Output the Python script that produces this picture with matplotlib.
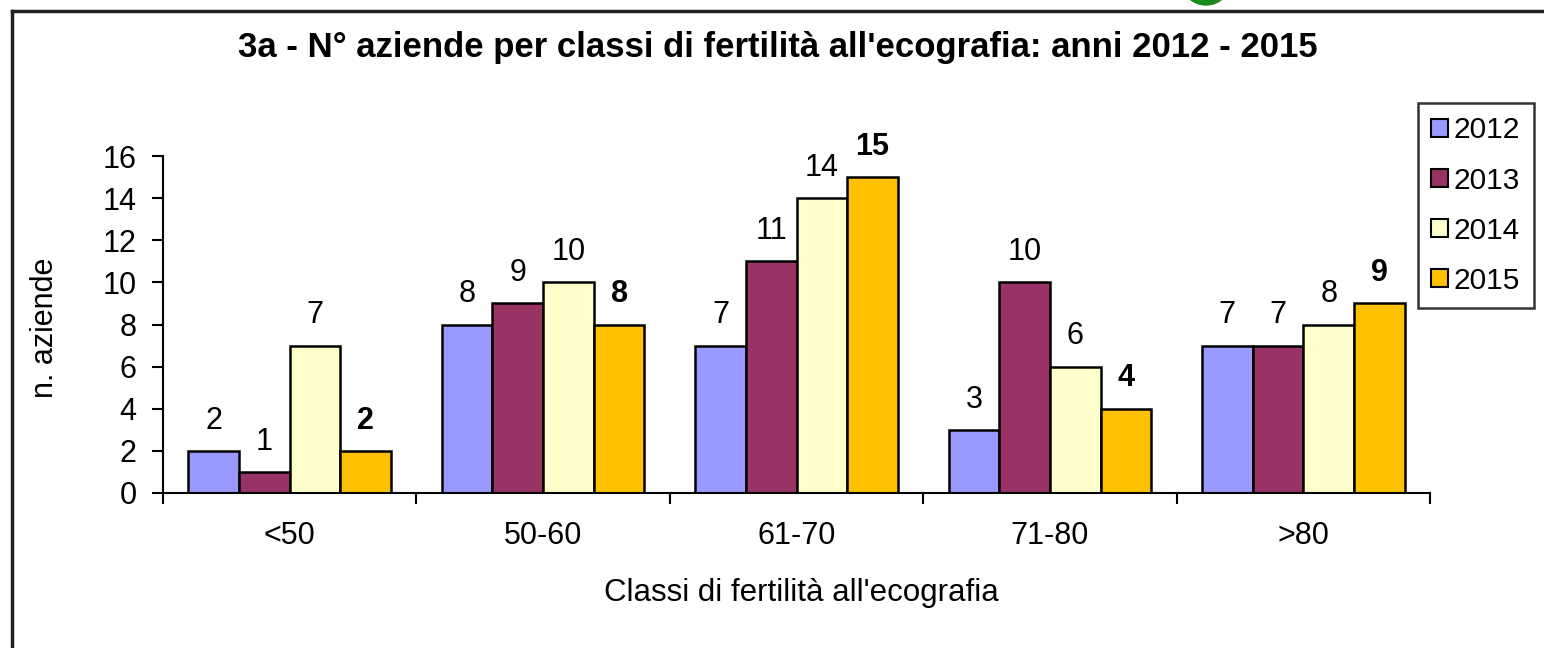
import numpy as np
import matplotlib
matplotlib.use("Agg")
import matplotlib.pyplot as plt
from matplotlib.lines import Line2D
from matplotlib.patches import Ellipse

plt.rcParams['font.family'] = ['Liberation Sans', 'DejaVu Sans']

classi = ["<50", "50-60", "61-70", "71-80", ">80"]
anni = ["2012", "2013", "2014", "2015"]
v2012 = [2, 8, 7, 3, 7]
v2013 = [1, 9, 11, 10, 7]
v2014 = [7, 10, 14, 6, 8]
v2015 = [2, 8, 15, 4, 9]
colori = ["#9999FF", "#993366", "#FFFFCC", "#FFC000"]

W, H = 1544, 648
fig = plt.figure(figsize=(W / 100, H / 100), dpi=100)
ax = fig.add_axes([163 / W, 1 - 493 / H, (1430 - 163) / W, (493 - 156) / H])

serie = [v2012, v2013, v2014, v2015]
x = np.arange(len(classi))
bw = 0.2
for k, (vals, col) in enumerate(zip(serie, colori)):
    pos = x + 0.5 + (k - 1.5) * bw
    ax.bar(pos, vals, width=bw, color=col, edgecolor="black", linewidth=1.8, label=anni[k])
    for xi, v in zip(pos, vals):
        ax.annotate(str(v), (xi, v), xytext=(0, 11), textcoords="offset points",
                    ha="center", va="bottom", fontsize=22,
                    fontweight="bold" if k == 3 else "normal")

ax.set_xlim(0, 5)
ax.set_ylim(0, 16)
ax.set_yticks(range(0, 17, 2))
ax.set_xticks(x + 0.5)
ax.set_xticklabels(classi)
ax.set_xticks(np.arange(6), minor=True)
ax.tick_params(axis="x", which="major", length=0, pad=20, labelsize=22)
ax.tick_params(axis="x", which="minor", length=8, width=1.5, direction="out")
ax.tick_params(axis="y", length=8, width=1.5, direction="out", labelsize=22, pad=11)
for s in ["top", "right"]:
    ax.spines[s].set_visible(False)
for s in ["left", "bottom"]:
    ax.spines[s].set_linewidth(1.5)

fig.text(778 / W, 1 - 48 / H, "3a - N° aziende per classi di fertilità all'ecografia: anni 2012 - 2015",
         ha="center", va="center", fontsize=25, fontweight="bold")
fig.text(45 / W, 1 - 328 / H, "n. aziende", rotation=90, ha="center", va="center", fontsize=22)
fig.text(801 / W, 1 - 593 / H, "Classi di fertilità all'ecografia", ha="center", va="center",
         fontsize=22.5)

handles = [plt.Rectangle((0, 0), 1, 1, facecolor=c, edgecolor="black", linewidth=1.5) for c in colori]
leg = fig.legend(handles, anni, loc="upper left", bbox_to_anchor=(1418 / W, 1 - 103 / H),
                 fontsize=21.5, frameon=True, fancybox=False, handlelength=0.55, handleheight=0.55,
                 handletextpad=0.2, labelspacing=0.74, borderpad=0.45, borderaxespad=0)
leg.get_frame().set_edgecolor("black")
leg.get_frame().set_linewidth(1.8)

# outer frame of the chart
fig.add_artist(Line2D([12 / W, 1], [1 - 11 / H, 1 - 11 / H], color="#222222", linewidth=2.5))
fig.add_artist(Line2D([12 / W, 12 / W], [0, 1 - 11 / H], color="#222222", linewidth=2.5))
fig.add_artist(Ellipse((1206 / W, 1 + 20 / H), 50 / W, 50 / H, transform=fig.transFigure,
                       color="#1a8a1a"))

fig.savefig("out.png", dpi=100)
